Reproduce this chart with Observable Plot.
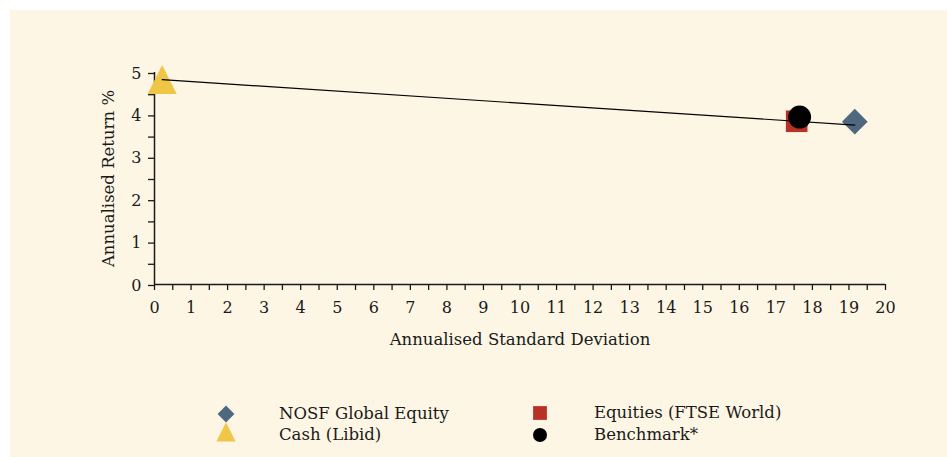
<!DOCTYPE html>
<html>
<head>
<meta charset="utf-8">
<script src="https://cdn.jsdelivr.net/npm/d3@7"></script>
<script src="https://cdn.jsdelivr.net/npm/@observablehq/plot@0.6"></script>
<style>
  html, body { margin: 0; padding: 0; background: #ffffff; }
  #panel { position: absolute; left: 10px; top: 10px; width: 937px; height: 447px; background: #fdf6e4; overflow: hidden; }
  #chart { position: absolute; left: 0; top: 0; }
  .leg { position: absolute; font-family: "DejaVu Serif", serif; font-size: 16.5px; color: #1a1a1a; line-height: 20px; white-space: nowrap; }
  .sym { position: absolute; }
</style>
</head>
<body>
<div id="panel">
  <div id="chart"></div>
  <div id="legend"></div>
</div>
<script>
// ---- data ----
const seriesNames = ["NOSF Global Equity", "Equities (FTSE World)", "Cash (Libid)", "Benchmark*"];
const seriesStdDev = [19.16, 17.57, 0.21, 17.65];
const seriesReturn = [3.84, 3.85, 4.72, 3.95];
const seriesColors = ["#4f6880", "#b83127", "#f0c646", "#000000"];
const seriesSymbols = ["diamond2", "square", "triangle", "circle"];
const seriesRadius = [11.6, 12.2, 11.6, 11.5];

const lineStdDev = [0.21, 19.16];
const lineReturn = [4.83, 3.76];

const xTicks = [0,0.5,1,1.5,2,2.5,3,3.5,4,4.5,5,5.5,6,6.5,7,7.5,8,8.5,9,9.5,10,10.5,11,11.5,12,12.5,13,13.5,14,14.5,15,15.5,16,16.5,17,17.5,18,18.5,19,19.5,20];
const yTicks = [0,0.5,1,1.5,2,2.5,3,3.5,4,4.5,5];

// taller isosceles triangle (width == height), centred on its centroid
const tallTriangle = {
  draw(context, size) {
    const w = Math.sqrt(size * 2), h = w;
    context.moveTo(0, -2 * h / 3);
    context.lineTo(w / 2, h / 3);
    context.lineTo(-w / 2, h / 3);
    context.closePath();
  }
};
const symMap = { diamond2: d3.symbolDiamond2, square: d3.symbolSquare, triangle: tallTriangle, circle: d3.symbolCircle };

const points = seriesNames.map((name, i) => ({
  name, x: seriesStdDev[i], y: seriesReturn[i], color: seriesColors[i], symbol: seriesSymbols[i], r: seriesRadius[i]
}));
const lineData = lineStdDev.map((x, i) => ({x, y: lineReturn[i]}));
const drawOrder = ["Cash (Libid)", "Equities (FTSE World)", "NOSF Global Equity"];
const fmt = d => Number.isInteger(d) ? String(d) : "";

const plot = Plot.plot({
  width: 937,
  height: 340,
  marginLeft: 144,
  marginRight: 62,
  marginTop: 62,
  marginBottom: 66,
  style: { background: "transparent", fontFamily: "DejaVu Serif, serif", fontSize: "16px", color: "#1a1a1a" },
  x: { domain: [0, 20] },
  y: { domain: [0, 5] },
  marks: [
    Plot.axisX({ ticks: xTicks, tickFormat: fmt, tickSize: 6, tickPadding: 11, stroke: "#1a1a1a", strokeWidth: 1.3, fontSize: 16,
      label: null }),
    Plot.text(["Annualised Standard Deviation"], { frameAnchor: "bottom", dy: 60, fontSize: 16.5, text: d => d }),
    Plot.axisY({ ticks: yTicks, tickFormat: fmt, tickSize: 6, tickPadding: 7, dy: 1, stroke: "#1a1a1a", strokeWidth: 1.3, fontSize: 16,
      label: null }),
    Plot.text(["Annualised Return %"], { frameAnchor: "left", textAnchor: "middle", dx: -46, rotate: -90, fontSize: 16.5, text: d => d }),
    Plot.ruleY([0], { x1: 0, x2: 20, stroke: "#1a1a1a", strokeWidth: 1.5 }),
    Plot.ruleX([0], { y1: 0, y2: 5, stroke: "#1a1a1a", strokeWidth: 1.5 }),
    ...drawOrder.map(n => {
      const p = points.filter(d => d.name === n);
      return Plot.dot(p, { x: "x", y: "y", symbol: () => symMap[p[0].symbol], r: p[0].r, fill: p[0].color, stroke: "none" });
    }),
    Plot.line(lineData, { x: "x", y: "y", stroke: "#000", strokeWidth: 1.2 }),
    Plot.dot(points.filter(d => d.name === "Benchmark*"), { x: "x", y: "y", r: "r", fill: "color", stroke: "none" })
  ],
  symbol: { type: "identity" },
  r: { type: "identity" }
});
document.getElementById("chart").appendChild(plot);

// ---- legend ----
const legend = document.getElementById("legend");
const legendPos = [
  { name: "NOSF Global Equity", sx: 216, tx: 269, cy: 404 },
  { name: "Cash (Libid)", sx: 216, tx: 269, cy: 425 },
  { name: "Equities (FTSE World)", sx: 530, tx: 584, cy: 403 },
  { name: "Benchmark*", sx: 530, tx: 584, cy: 425 }
];
const legendSize = { "diamond2": 180, "square": 190, "triangle": 185, "circle": 155 };
legendPos.forEach(lp => {
  const p = points.find(d => d.name === lp.name);
  const svg = d3.create("svg").attr("class", "sym").attr("width", 26).attr("height", 26)
    .style("left", (lp.sx - 13) + "px").style("top", (lp.cy - 13) + "px");
  svg.append("path").attr("transform", "translate(13,13)")
    .attr("d", d3.symbol(symMap[p.symbol], legendSize[p.symbol])())
    .attr("fill", p.color);
  legend.appendChild(svg.node());
  const t = document.createElement("div");
  t.className = "leg";
  t.textContent = lp.name;
  t.style.left = lp.tx + "px";
  t.style.top = (lp.cy - 10) + "px";
  legend.appendChild(t);
});
</script>
</body>
</html>
